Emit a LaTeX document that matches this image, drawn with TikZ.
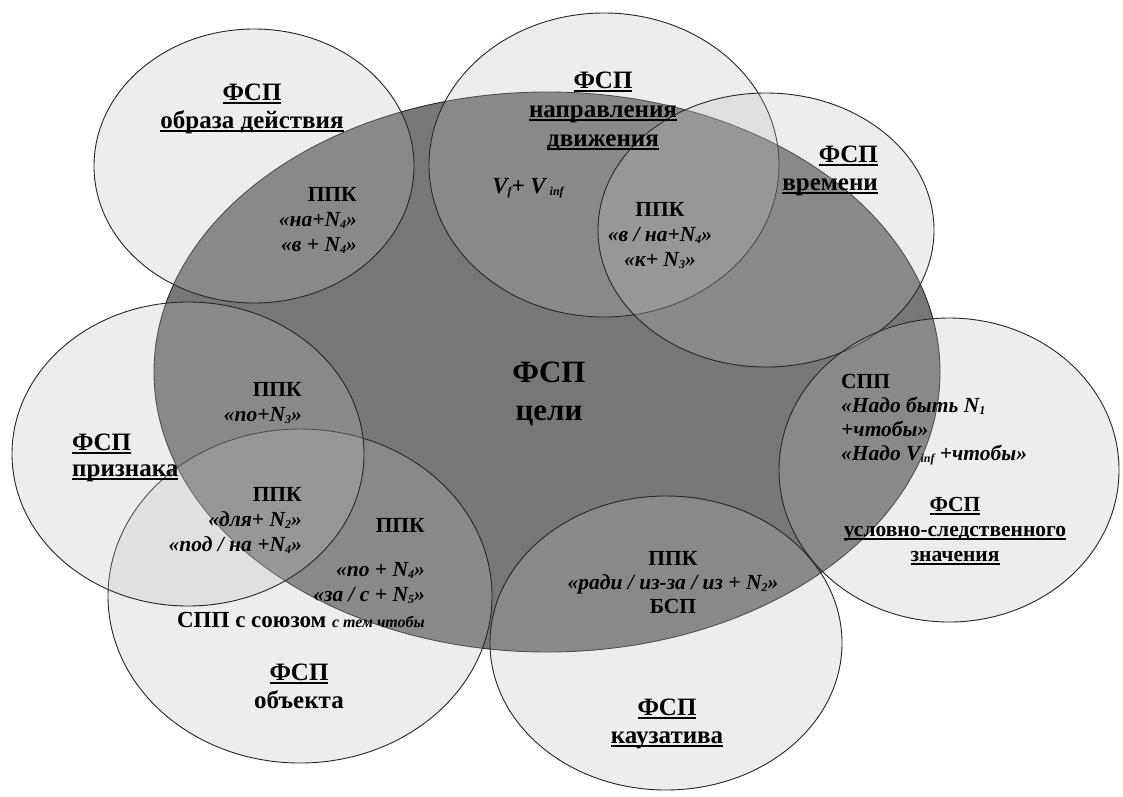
\documentclass[tikz,border=0pt]{standalone}
\usepackage{fontspec}
\setmainfont{Liberation Serif}
% underline with a heavier rule set a little below the baseline
\newcommand\ulc[1]{\setbox0\hbox{#1}\rlap{\rule[-3.6pt]{\wd0}{1.8pt}}\box0}
% small lowered index digit
\newcommand\sbs[1]{\raisebox{-2pt}{\fontsize{12}{12}\selectfont #1}}
\definecolor{coregray}{HTML}{777777}
\definecolor{fieldgray}{HTML}{BEBEBE}
\definecolor{edgegray}{HTML}{262626}
\begin{document}
\begin{tikzpicture}[x=1pt,y=-1pt,
  core/.style={fill=coregray, draw=edgegray, line width=0.9pt},
  field/.style={fill=fieldgray, fill opacity=0.265, draw=edgegray, line width=0.9pt},
  txt/.style={inner sep=0pt, align=center, font=\bfseries\fontsize{21.5}{25}\selectfont},
  title/.style={txt, font=\bfseries\fontsize{25}{28}\selectfont},
  big/.style={txt, font=\bfseries\fontsize{31}{38}\selectfont}]

\useasboundingbox (0,0) rectangle (1123,796);
\fill[white] (0,0) rectangle (1123,796);

% central field
\path[core] (547,372) ellipse [x radius=393, y radius=280];

% surrounding fields
\path[field] (254,166) ellipse [x radius=160, y radius=137]; % manner
\path[field] (604,165) ellipse [x radius=175, y radius=152]; % direction
\path[field] (766,230) ellipse [x radius=168, y radius=137]; % time
\path[field] (949,470) ellipse [x radius=170, y radius=152]; % condition
\path[field] (666,643) ellipse [x radius=176, y radius=147]; % causative
\path[field] (300,596) ellipse [x radius=192, y radius=167]; % object
\path[field] (188,454) ellipse [x radius=176, y radius=152]; % attribute

\begin{scope}[shift={(0,3)}]
% goal
\node[big] (goal) at (549,391) {ФСП\\цели};

% manner
\node[title] (manner) at (252,106) {\ulc{ФСП}\\\ulc{образа действия}};
\node[txt, anchor=east, align=right] (mannerppk) at (357,217)
  {ППК\\\textit{«на+N\sbs{4}»}\\\textit{«в + N\sbs{4}»}};

% direction
\node[title, font=\bfseries\fontsize{25}{29}\selectfont] (direction) at (603,108)
  {\ulc{ФСП}\\\ulc{направления}\\\ulc{движения}};
\node[txt, font=\bfseries\fontsize{23}{25}\selectfont] (vinf) at (528,185) {\textit{V\sbs{f}+ V\,\sbs{inf}}};
\node[txt] (dirppk) at (660,233) {ППК\\\textit{«в / на+N\sbs{4}»}\\\textit{«к+ N\sbs{3}»}};

% time
\node[title, anchor=east, align=right] (time) at (878,168) {\ulc{ФСП}\\\ulc{времени}};

% condition
\node[txt, anchor=west, align=left, font=\bfseries\fontsize{21.5}{24}\selectfont] (condspp) at (841,417)
  {СПП\\\textit{«Надо быть N\sbs{1}}\\\textit{+чтобы»}\\\textit{«Надо V\sbs{inf} +чтобы»}};
\node[txt] (condition) at (955,528) {\ulc{ФСП}\\\ulc{условно-следственного}\\\ulc{значения}};

% causative
\node[txt, font=\bfseries\fontsize{21.5}{24}\selectfont] (causppk) at (673,580)
  {ППК\\\textit{«ради / из-за / из + N\sbs{2}»}\\БСП};
\node[title] (causative) at (667,721) {\ulc{ФСП}\\\ulc{каузатива}};

% attribute
\node[txt, anchor=west, align=left, font=\bfseries\fontsize{25}{26}\selectfont] (attribute) at (72,455)
  {\ulc{ФСП}\\\ulc{признака}};
\node[txt, anchor=east, align=right] (attrppk) at (302,400) {ППК\\\textit{«по+N\sbs{3}»}};
\node[txt, anchor=east, align=right] (purpppk) at (302,517)
  {ППК\\\textit{«для+ N\sbs{2}»}\\\textit{«под / на +N\sbs{4}»}};

% object
\node[txt, anchor=east] (objppk) at (425,522) {ППК};
\node[txt, anchor=east, align=right] (objforms) at (425,580)
  {\textit{«по + N\sbs{4}»}\\\textit{«за / с + N\sbs{5}»}};
\node[txt, anchor=east, font=\bfseries\fontsize{23}{25}\selectfont] (objspp) at (425,617)
  {СПП с союзом {\fontsize{16}{16}\selectfont\textit{с тем чтобы}}};
\node[title] (object) at (299,683) {\ulc{ФСП}\\объекта};
\end{scope}

\end{tikzpicture}
\end{document}
